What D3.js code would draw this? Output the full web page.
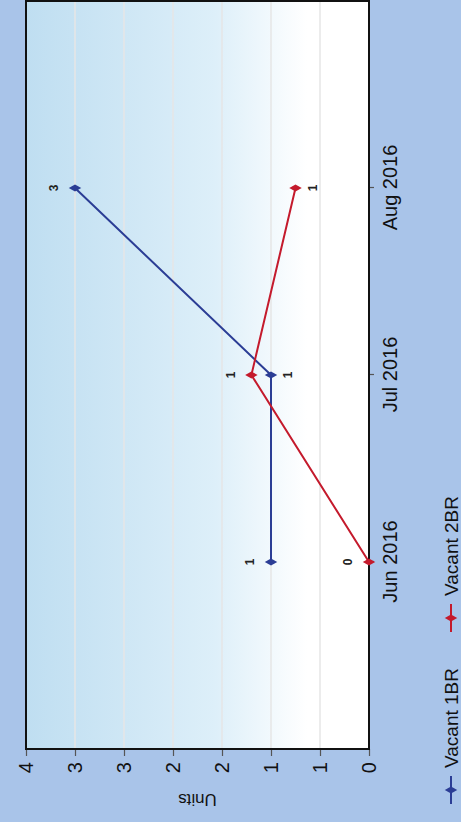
<!DOCTYPE html>
<html><head><meta charset="utf-8">
<script src="https://cdn.jsdelivr.net/npm/d3@7"></script>
<style>html,body{margin:0;padding:0;background:#a9c4e9;} svg{display:block}</style>
</head><body><svg id="c" width="461" height="822"></svg>
<script>
const categories = ["Jun 2016", "Jul 2016", "Aug 2016"];
const vacant1BR = [1, 1, 3];
const vacant2BR = [0, 1.2, 0.75];
const seriesNames = ["Vacant 1BR", "Vacant 2BR"];
const seriesColors = ["#2b3d95", "#c41a2c"];
const yTicks = [0, 0.5, 1, 1.5, 2, 2.5, 3, 3.5];
const yTickLabels = ["0", "1", "1", "2", "2", "3", "3", "4"];
const dataLabels1 = ["1", "1", "3"];
const dataLabels2 = ["0", "1", "1"];

const W = 822, H = 461;
const m = {left: 73, right: 821, top: 26, bottom: 369};
const FONT = "'Liberation Sans', Arial, sans-serif";

const svg = d3.select("#c");
svg.append("rect").attr("width", 461).attr("height", 822).attr("fill", "#a9c4e9");
const defs = svg.append("defs");
const grad = defs.append("linearGradient").attr("id", "bg").attr("x1", 0).attr("y1", 0).attr("x2", 0).attr("y2", 1);
grad.append("stop").attr("offset", "0%").attr("stop-color", "#bfdef1");
grad.append("stop").attr("offset", "55%").attr("stop-color", "#ddeff9");
grad.append("stop").attr("offset", "82%").attr("stop-color", "#ffffff");
grad.append("stop").attr("offset", "100%").attr("stop-color", "#ffffff");

const g = svg.append("g").attr("transform", `translate(0,${W}) rotate(-90)`);

const x = d3.scalePoint().domain(categories).range([m.left, m.right]).padding(1);
const y = d3.scaleLinear().domain([0, 3.5]).range([m.bottom, m.top]);

g.append("rect").attr("x", m.left).attr("y", m.top).attr("width", m.right - m.left).attr("height", m.bottom - m.top).attr("fill", "url(#bg)");

// gridlines
g.append("g").selectAll("line").data(yTicks.filter(d => d > 0)).join("line")
  .attr("x1", m.left).attr("x2", m.right).attr("y1", d => y(d)).attr("y2", d => y(d))
  .attr("stroke", "#e6e6e6").attr("stroke-width", 1.5);

// value axis
const ya = g.append("g").attr("transform", `translate(${m.left},0)`)
  .call(d3.axisLeft(y).tickValues(yTicks).tickFormat((d, i) => yTickLabels[i]).tickSize(7).tickPadding(6));
ya.select(".domain").remove();
ya.selectAll("line").attr("stroke", "#555").attr("stroke-width", 1.2);
ya.selectAll("text").attr("font-family", FONT).attr("font-size", 20).attr("fill", "#111");

// category axis
const xa = g.append("g").attr("transform", `translate(0,${m.bottom})`)
  .call(d3.axisBottom(x).tickSize(5).tickPadding(9));
xa.select(".domain").remove();
xa.selectAll("line").attr("stroke", "#555").attr("stroke-width", 1.2);
xa.selectAll("text").attr("font-family", FONT).attr("font-size", 20).attr("fill", "#111");

// frame
g.append("rect").attr("x", m.left).attr("y", m.top).attr("width", m.right - m.left).attr("height", m.bottom - m.top)
  .attr("fill", "none").attr("stroke", "#111").attr("stroke-width", 2);

// axis title
g.append("text").attr("transform", `translate(22,${(m.top + m.bottom) / 2}) rotate(-90)`)
  .attr("text-anchor", "middle").attr("dy", "0.35em").attr("font-family", FONT).attr("font-size", 17).attr("fill", "#111").text("Units");

const series = [vacant1BR, vacant2BR];
const labels = [dataLabels1, dataLabels2];
const line = d3.line().x((d, i) => x(categories[i])).y(d => y(d));
const diamond = d3.symbol().type(d3.symbolDiamond).size(45);

series.forEach((vals, si) => {
  const col = seriesColors[si];
  g.append("path").datum(vals).attr("d", line).attr("fill", "none").attr("stroke", col).attr("stroke-width", 2);
  g.append("g").selectAll("path").data(vals).join("path")
    .attr("transform", (d, i) => `translate(${x(categories[i])},${y(d)})`)
    .attr("d", diamond).attr("fill", col);
  const other = series[1 - si];
  g.append("g").selectAll("text").data(vals).join("text")
    .attr("x", (d, i) => x(categories[i]))
    .attr("y", (d, i) => {
      const above = d === 0 || d >= other[i];
      return above ? y(d) - 21 : y(d) + 17;
    })
    .attr("dy", "0.35em").attr("text-anchor", "middle")
    .attr("font-family", FONT).attr("font-size", 12).attr("font-weight", "bold").attr("fill", "#222")
    .text((d, i) => labels[si][i]);
});

// legend
const legX = [18, 190];
seriesNames.forEach((name, si) => {
  const lg = g.append("g").attr("transform", `translate(${legX[si]},451)`);
  lg.append("line").attr("x1", 0).attr("x2", 28).attr("stroke", seriesColors[si]).attr("stroke-width", 2);
  lg.append("path").attr("transform", "translate(14,0)").attr("d", diamond).attr("fill", seriesColors[si]);
  lg.append("text").attr("x", 36).attr("dy", "0.35em").attr("font-family", FONT).attr("font-size", 19).attr("fill", "#111").text(name);
});
</script></body></html>
